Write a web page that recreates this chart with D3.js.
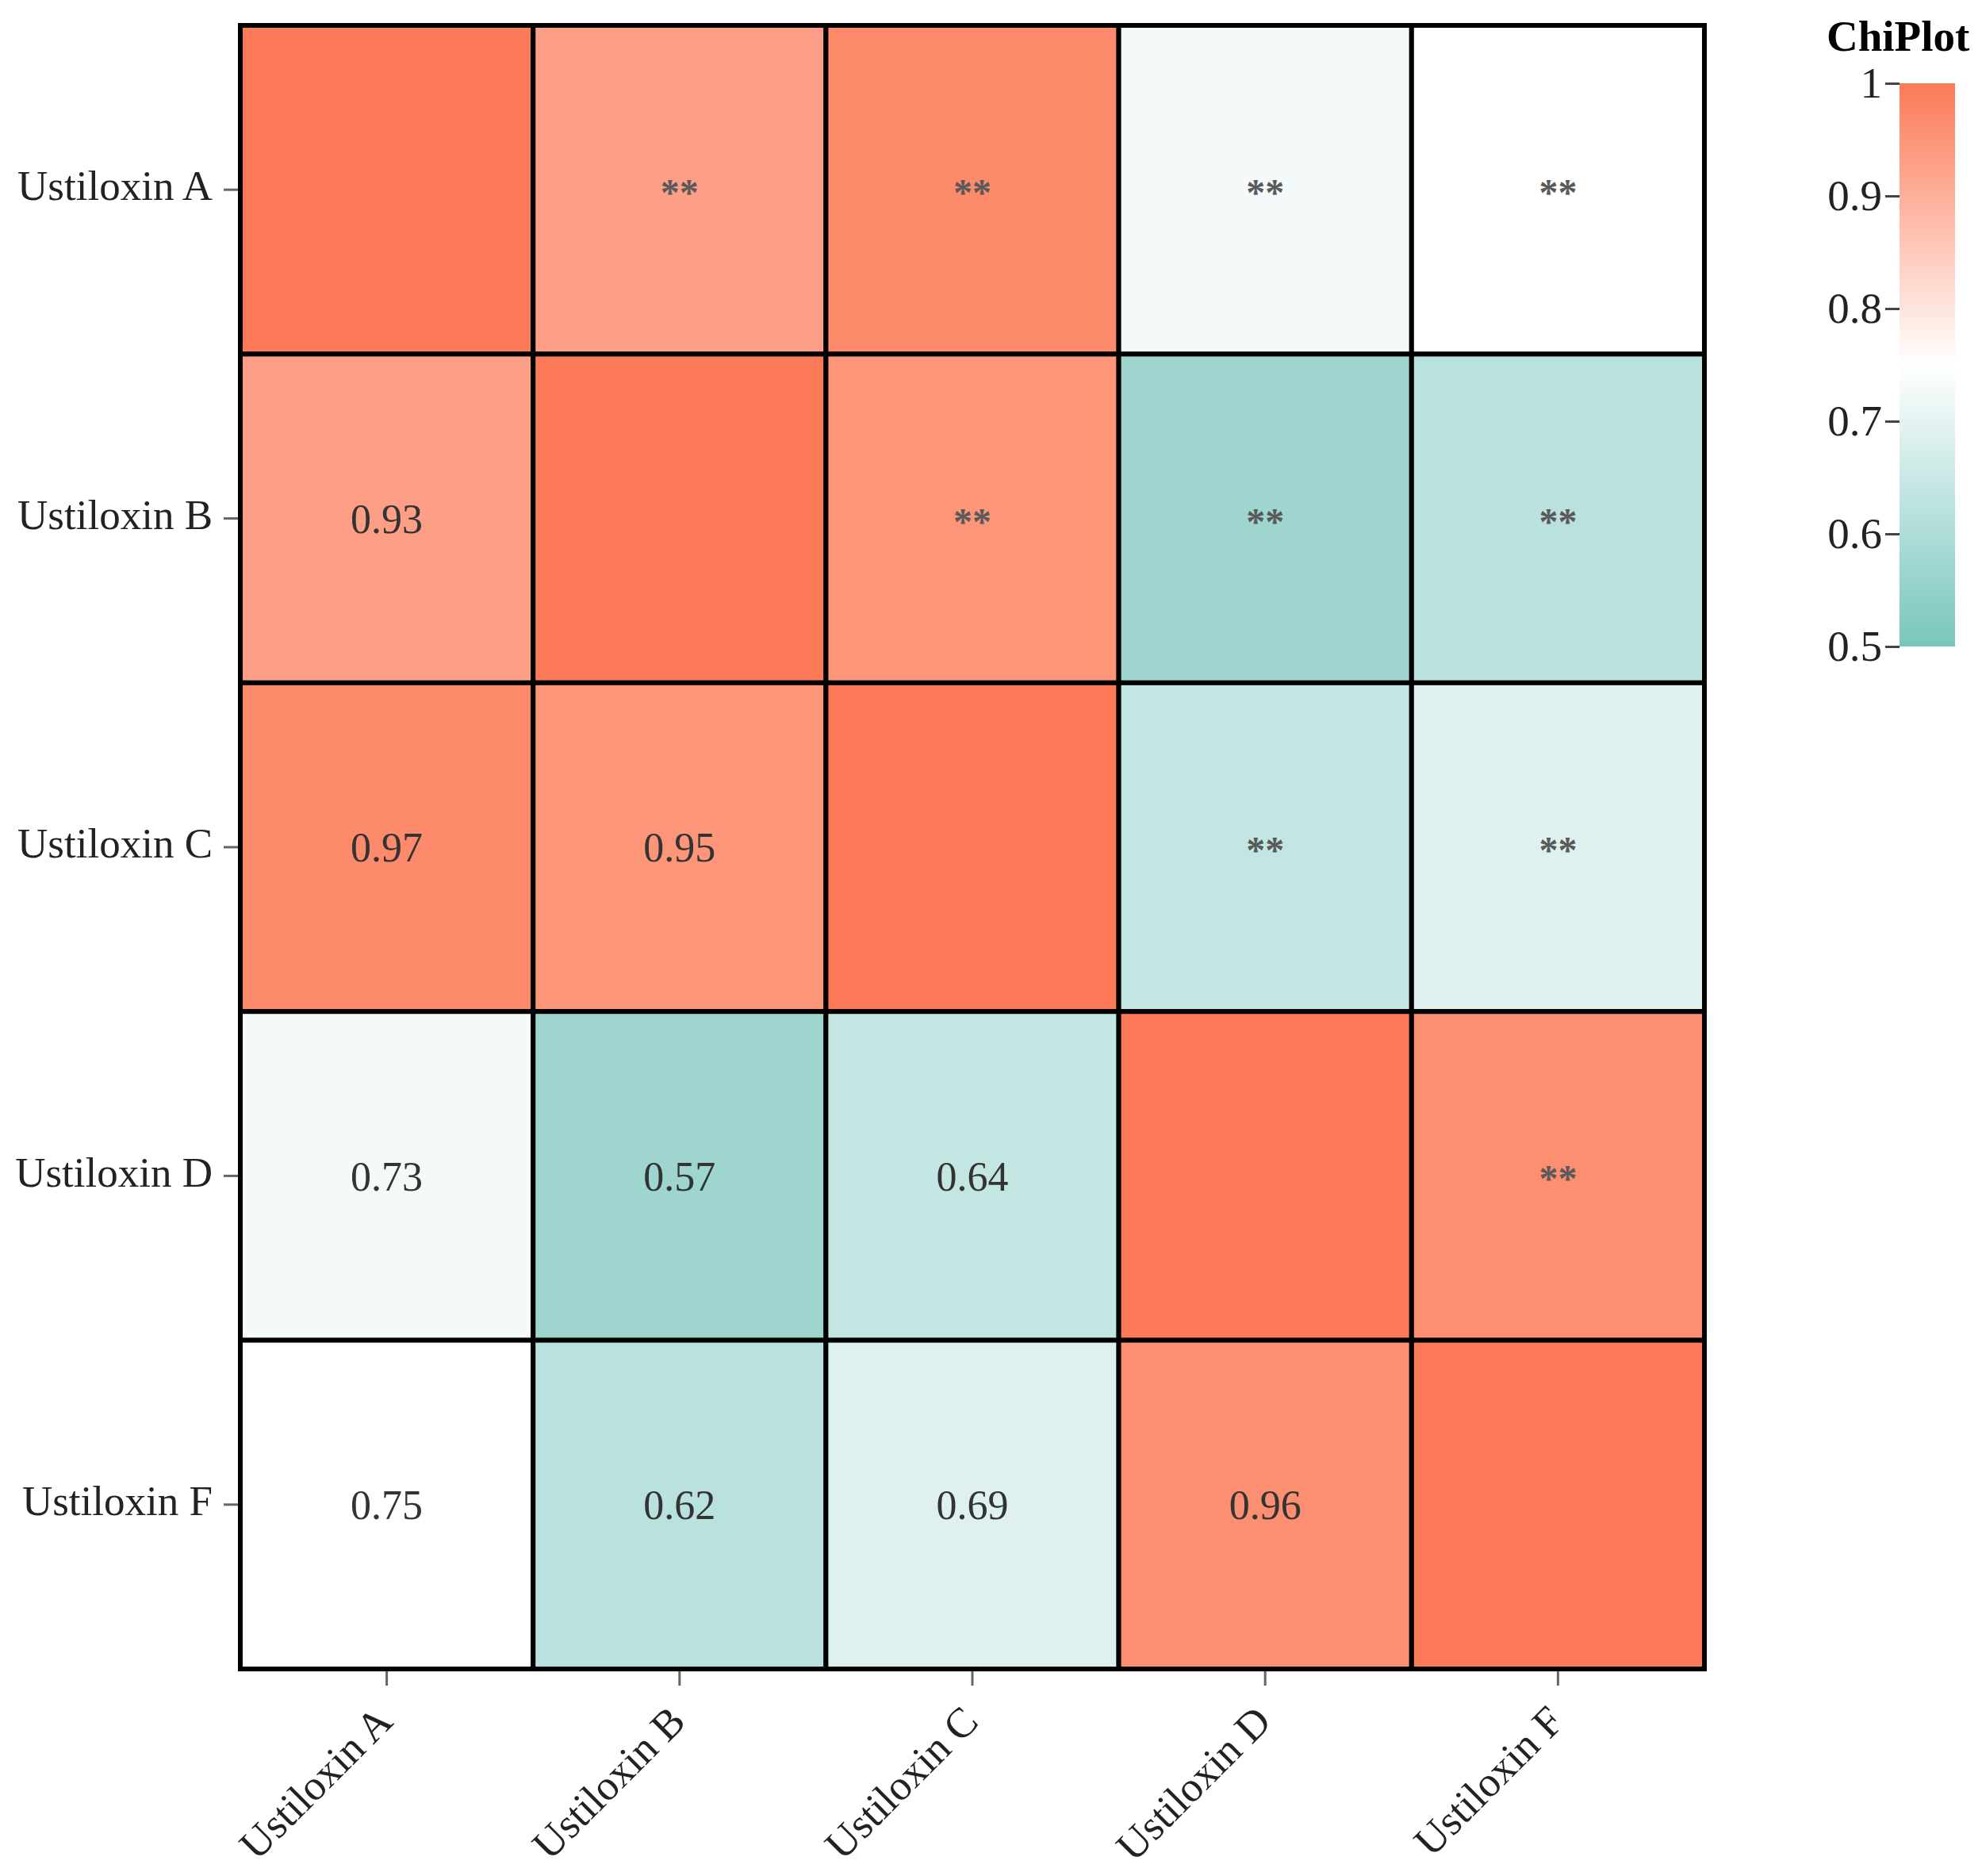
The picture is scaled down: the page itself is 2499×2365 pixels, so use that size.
<!DOCTYPE html>
<html>
<head>
<meta charset="utf-8">
<script src="https://cdn.jsdelivr.net/npm/d3@7"></script>
<style>
  body { margin: 0; background: #fff; }
  text { font-family: "Liberation Serif", "Times New Roman", serif; }
</style>
</head>
<body>
<div id="chart"></div>
<script>
const compounds = ["Ustiloxin A", "Ustiloxin B", "Ustiloxin C", "Ustiloxin D", "Ustiloxin F"];

// correlation matrix, row by row
const rowA = [1, 0.93, 0.97, 0.73, 0.75];
const rowB = [0.93, 1, 0.95, 0.57, 0.62];
const rowC = [0.97, 0.95, 1, 0.64, 0.69];
const rowD = [0.73, 0.57, 0.64, 1, 0.96];
const rowF = [0.75, 0.62, 0.69, 0.96, 1];
const corr = [rowA, rowB, rowC, rowD, rowF];

const sigMark = "**"; // shown in the upper triangle
const legendTicks = [0.5, 0.6, 0.7, 0.8, 0.9, 1];
const colorDomain = [0.5, 0.75, 1];
const colorRange = ["#78c6bd", "#ffffff", "#fc7a57"];

const W = 2499, H = 2365;
const grid = { left: 303, right: 2149, top: 32, bottom: 2104 };

const svg = d3.select("#chart")
  .append("svg")
  .attr("width", W)
  .attr("height", H);

svg.append("rect").attr("width", W).attr("height", H).attr("fill", "#fff");

const x = d3.scaleBand().domain(compounds).range([grid.left, grid.right]);
const y = d3.scaleBand().domain(compounds).range([grid.top, grid.bottom]);
const color = d3.scaleLinear().domain(colorDomain).range(colorRange);

// flatten matrix into cells
const cells = [];
corr.forEach((row, i) => {
  row.forEach((v, j) => {
    cells.push({ row: compounds[i], col: compounds[j], i, j, v });
  });
});

const cellG = svg.append("g");

cellG.selectAll("rect")
  .data(cells)
  .enter().append("rect")
  .attr("x", d => x(d.col))
  .attr("y", d => y(d.row))
  .attr("width", x.bandwidth())
  .attr("height", y.bandwidth())
  .attr("fill", d => color(d.v))
  .attr("stroke", "#000")
  .attr("stroke-width", 6);

// outer frame
svg.append("rect")
  .attr("x", grid.left)
  .attr("y", grid.top)
  .attr("width", grid.right - grid.left)
  .attr("height", grid.bottom - grid.top)
  .attr("fill", "none")
  .attr("stroke", "#000")
  .attr("stroke-width", 6);

// values below the diagonal
cellG.selectAll(".val")
  .data(cells.filter(d => d.i > d.j))
  .enter().append("text")
  .attr("class", "val")
  .attr("x", d => x(d.col) + x.bandwidth() / 2)
  .attr("y", d => y(d.row) + y.bandwidth() / 2)
  .attr("dy", "0.35em")
  .attr("text-anchor", "middle")
  .attr("fill", "#333")
  .style("font-size", "52px")
  .text(d => d3.format(".2f")(d.v));

// significance above the diagonal
cellG.selectAll(".sig")
  .data(cells.filter(d => d.i < d.j))
  .enter().append("text")
  .attr("class", "sig")
  .attr("x", d => x(d.col) + x.bandwidth() / 2)
  .attr("y", d => y(d.row) + y.bandwidth() / 2 + 20)
  .attr("text-anchor", "middle")
  .attr("fill", "#5a5a5a")
  .style("font-size", "48px")
  .style("font-weight", "bold")
  .text(sigMark);

// y axis
const yAxis = svg.append("g")
  .attr("transform", `translate(${grid.left - 3},0)`)
  .call(d3.axisLeft(y).tickSize(18).tickPadding(14));
yAxis.select(".domain").remove();
yAxis.selectAll(".tick line").attr("stroke", "#666").attr("stroke-width", 3);
yAxis.selectAll(".tick text")
  .attr("fill", "#222")
  .attr("dy", "0.25em")
  .style("font-size", "53px");

// x axis
const xAxis = svg.append("g")
  .attr("transform", `translate(0,${grid.bottom + 3})`)
  .call(d3.axisBottom(x).tickSize(18));
xAxis.select(".domain").remove();
xAxis.selectAll(".tick line").attr("stroke", "#666").attr("stroke-width", 3);
xAxis.selectAll(".tick text")
  .attr("x", 0)
  .attr("y", 0)
  .attr("dy", 0)
  .attr("text-anchor", "end")
  .attr("transform", "translate(10,66) rotate(-45)")
  .attr("fill", "#222")
  .style("font-size", "53px");

// colour legend
const leg = { x: 2395, w: 70, top: 105, bottom: 815 };
const yLeg = d3.scaleLinear().domain([0.5, 1]).range([leg.bottom, leg.top]);

const grad = svg.append("defs").append("linearGradient")
  .attr("id", "legGrad")
  .attr("x1", 0).attr("y1", 1)
  .attr("x2", 0).attr("y2", 0);

d3.range(0, 1.0001, 0.05).forEach(t => {
  const v = 0.5 + t * 0.5;
  grad.append("stop")
    .attr("offset", t)
    .attr("stop-color", color(v));
});

svg.append("rect")
  .attr("x", leg.x)
  .attr("y", leg.top)
  .attr("width", leg.w)
  .attr("height", leg.bottom - leg.top)
  .attr("fill", "url(#legGrad)");

const legAxis = svg.append("g")
  .attr("transform", `translate(${leg.x},0)`)
  .call(d3.axisLeft(yLeg)
    .tickValues(legendTicks)
    .tickSize(18)
    .tickPadding(4)
    .tickFormat(d => d === 1 ? "1" : d3.format(".1f")(d)));
legAxis.select(".domain").remove();
legAxis.selectAll(".tick line").attr("stroke", "#444").attr("stroke-width", 3);
legAxis.selectAll(".tick text")
  .attr("fill", "#222")
  .style("font-size", "55px");

svg.append("text")
  .attr("x", 2303)
  .attr("y", 64)
  .attr("fill", "#000")
  .style("font-size", "55px")
  .style("font-weight", "bold")
  .text("ChiPlot");
</script>
</body>
</html>
